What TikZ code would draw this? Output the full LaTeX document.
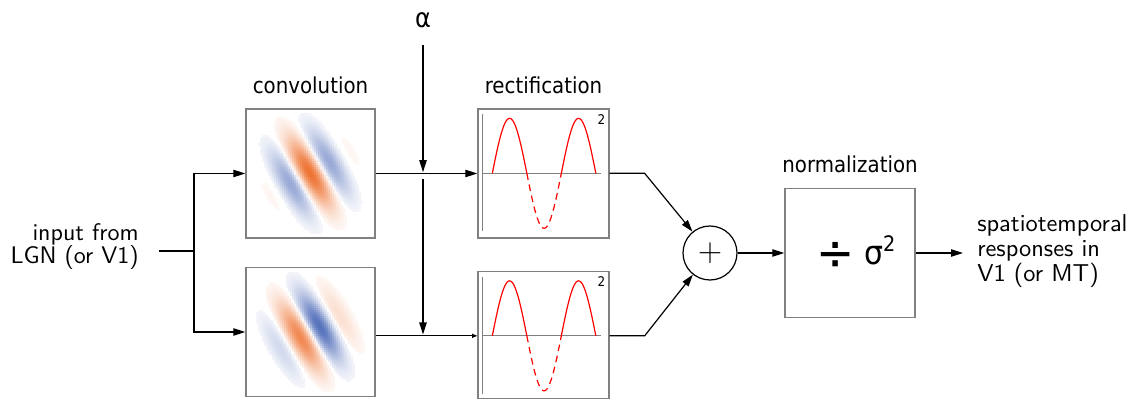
\documentclass[tikz,border=0pt]{standalone}
\usepackage{fontspec}
\newfontfamily\labelfont{DejaVu Sans}[FakeStretch=0.9]
\newfontfamily\iofamily{lmsans10-regular.otf}
\usetikzlibrary{arrows.meta, positioning, calc}

\definecolor{gaborOrange}{RGB}{238,114,50}
\definecolor{gaborBlue}{RGB}{55,88,175}
\definecolor{boxGray}{RGB}{128,128,128}

\newcommand{\iofont}{\iofamily\fontsize{18}{15.75}\selectfont\lineskiplimit -20pt\relax}
\newcommand{\outfont}{\iofamily\fontsize{18.3}{16.5}\selectfont\lineskiplimit -20pt\relax}

% receptive field patch, phase in degrees
\newcommand{\gaborpatch}[2]{%
  \begin{scope}[shift={(#1.center)}]
    \foreach \gi in {0,...,63}{
      \foreach \gj in {0,...,63}{
        \pgfmathsetmacro{\gdx}{2*\gi-63}
        \pgfmathsetmacro{\gdy}{2*\gj-63}
        \pgfmathsetmacro{\gu}{0.5*\gdx+0.866*\gdy}
        \pgfmathsetmacro{\gw}{0.866*\gdx-0.5*\gdy}
        \pgfmathsetmacro{\gexp}{(\gu*\gu)/1352+(\gw*\gw)/800}
        \ifdim\gexp pt<5pt
          \pgfmathsetmacro{\gv}{exp(-\gexp)*cos(6.923*\gw+#2)}
          \pgfmathsetmacro{\ga}{abs(\gv)}
          \ifdim\ga pt>0.045pt
            \pgfmathtruncatemacro{\gpct}{100*\ga^0.9}
            \ifdim\gv pt>0pt \def\gcol{gaborOrange}\else\def\gcol{gaborBlue}\fi
            \fill[\gcol!\gpct!white] (\gdx-1.2,\gdy-1.2) rectangle ++(2.4,2.4);
          \fi
        \fi
      }}
  \end{scope}}

% half-wave curve with squaring exponent
\newcommand{\rectplot}[1]{%
  \begin{scope}[shift={(#1.north west)}]
    \coordinate (#1axis) at (0,65);
    \draw[axisline] (5,6) -- (5,123);
    \draw[axisline] (5,65) -- (124,65);
    \draw[curve] plot[domain=0:180, samples=31] ({15+\x/180*34.5},{65-55*sin(\x)});
    \draw[curve, dash pattern=on 5pt off 3.5pt] plot[domain=180:360, samples=31] ({15+\x/180*34.5},{65-55*sin(\x)});
    \draw[curve] plot[domain=360:540, samples=31] ({15+\x/180*34.5},{65-55*sin(\x)});
    \node[font=\labelfont\fontsize{10}{10}\selectfont, inner sep=0pt] (#1exp) at (124,11) {2};
  \end{scope}}

\begin{document}
\begin{tikzpicture}[x=0.75pt, y=-0.75pt,
    stagebox/.style={draw=boxGray, line width=1pt, minimum width=96.75pt, minimum height=96.75pt, inner sep=0pt},
    stagelabel/.style={font=\labelfont\fontsize{16.5}{18}\selectfont, inner sep=2pt},
    flow/.style={-{Triangle[length=9pt,width=5.5pt]}, line width=0.9pt},
    thinflow/.style={-{Triangle[length=4pt,width=3pt]}, line width=0.9pt},
    axisline/.style={draw=boxGray, line width=0.8pt},
    curve/.style={red, line width=0.9pt},
    iotext/.style={font=\iofont, inner sep=0pt},
]
\useasboundingbox (0,0) rectangle (1133,399);

% ============================================================
% STAGES
% ============================================================
\node[stagebox] (conv1) at (310.5,173.5) {};
\node[stagebox] (conv2) at (310.5,332) {};
\node[stagebox, minimum width=98.25pt] (rect1) at (543.5,173.5) {};
\node[stagebox, minimum width=98.25pt, minimum height=95.25pt] (rect2) at (543.5,335) {};
\node[stagebox, minimum width=97.5pt] (norm) at (850,253)
    {\labelfont\hspace*{9pt}\raisebox{-4pt}{\fontsize{38}{38}\selectfont ÷}\hspace{7pt}\fontsize{25}{25}\selectfont σ\raisebox{10pt}{\fontsize{16}{16}\selectfont 2}};
\node[circle, draw, line width=0.9pt, minimum size=40.5pt, inner sep=0pt] (sum) at (710,253)
    {\rmfamily\fontsize{25}{25}\selectfont +};

\gaborpatch{conv1}{0}
\gaborpatch{conv2}{90}
\rectplot{rect1}
\rectplot{rect2}

% ============================================================
% LABELS
% ============================================================
\node[stagelabel, above=9pt of conv1] (convlbl) {convolution};
\node[stagelabel, above=9pt of rect1] (rectlbl) {rectification};
\node[stagelabel, above=9pt of norm] (normlbl) {normalization};
\node[font=\labelfont\fontsize{20}{20}\selectfont, inner sep=0pt] (alpha) at (423,20) {α};
\node[iotext, align=right, anchor=east] (inp) at (139,247) {input from\\[1.5pt]LGN (or V1)};
\node[iotext, font=\outfont, align=left, anchor=west] (outtxt) at (977,251) {spatiotemporal\\[2.5pt]responses in\\[2.5pt]V1 (or MT)};

% ============================================================
% CONNECTORS
% ============================================================
\coordinate (split) at (194,251);
\coordinate (j1) at (alpha |- conv1.east);
\coordinate (j2) at (alpha |- rect2axis);
\draw[line width=0.9pt, shorten <=15pt] (inp.east |- split) -- (split);
\draw[flow] (split) |- (conv1);
\draw[flow] (split) |- (conv2);
\draw[flow] (conv1) -- (rect1);
\draw[thinflow] (conv2.east |- rect2axis) -- (rect2axis);
\draw[flow, shorten <=12.5pt, shorten >=1pt] (alpha) -- (j1);
\draw[flow, shorten <=4pt, shorten >=1pt] (j1) -- (j2);
\draw[flow] (rect1.east |- rect1axis) -- ++(35,0) -- (sum);
\draw[flow] (rect2.east |- rect2axis) -- ++(35,0) -- (sum);
\draw[flow] (sum) -- (norm);
\draw[flow, shorten >=10.5pt] (norm.east) -- (norm.east -| outtxt.west);

\end{tikzpicture}
\end{document}
